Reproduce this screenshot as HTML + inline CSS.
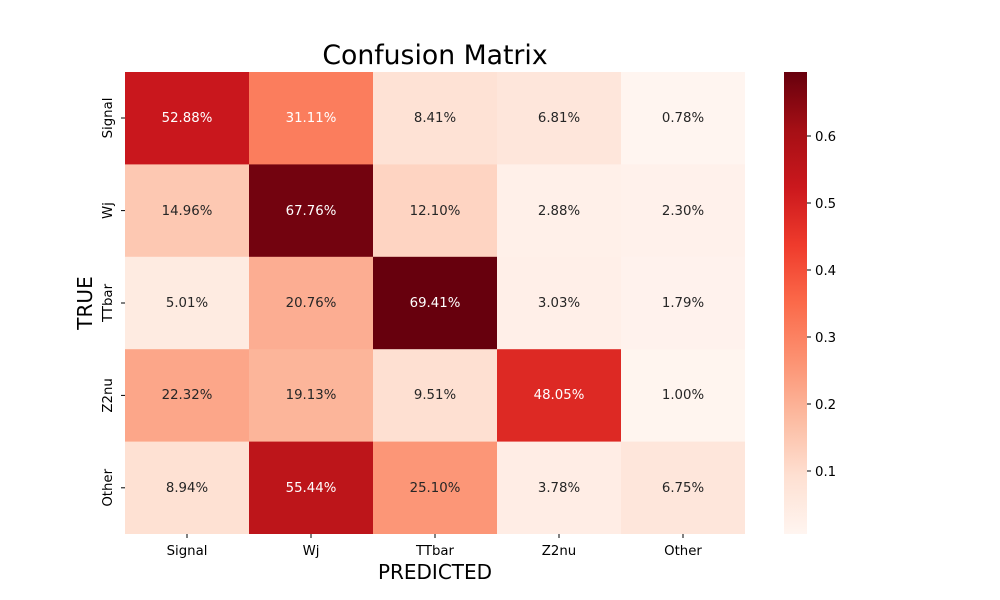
<!DOCTYPE html>
<html><head><style>body{margin:0;background:#fff}svg{display:block}text{font-family:"DejaVu Sans","Liberation Sans",sans-serif}</style></head>
<body>
<svg width="1000" height="600" xmlns="http://www.w3.org/2000/svg">
<defs><linearGradient id="g" x1="0" y1="1" x2="0" y2="0">
<stop offset="0" stop-color="#fff5f0"/><stop offset="0.125" stop-color="#fee0d2"/><stop offset="0.25" stop-color="#fcbba1"/><stop offset="0.375" stop-color="#fc9272"/><stop offset="0.5" stop-color="#fb6a4a"/><stop offset="0.625" stop-color="#ef3b2c"/><stop offset="0.75" stop-color="#cb181d"/><stop offset="0.875" stop-color="#a50f15"/><stop offset="1" stop-color="#67000d"/>
</linearGradient></defs>
<text x="435" y="64" font-size="26.7" text-anchor="middle" fill="#000">Confusion Matrix</text>
<g font-size="13.3" text-anchor="middle">
<rect x="125" y="72" width="124" height="93" fill="#c9171d"/><text x="187" y="122" fill="#fff">52.88%</text>
<rect x="249" y="72" width="124" height="93" fill="#fb7d5d"/><text x="311" y="122" fill="#fff">31.11%</text>
<rect x="373" y="72" width="124" height="93" fill="#fee2d5"/><text x="435" y="122" fill="#262626">8.41%</text>
<rect x="497" y="72" width="124" height="93" fill="#fee6db"/><text x="559" y="122" fill="#262626">6.81%</text>
<rect x="621" y="72" width="124" height="93" fill="#fff5f0"/><text x="683" y="122" fill="#262626">0.78%</text>

<rect x="125" y="164.4" width="124" height="93" fill="#fdc8b2"/><text x="187" y="215" fill="#262626">14.96%</text>
<rect x="249" y="164.4" width="124" height="93" fill="#73030f"/><text x="311" y="215" fill="#fff">67.76%</text>
<rect x="373" y="164.4" width="124" height="93" fill="#fed4c2"/><text x="435" y="215" fill="#262626">12.10%</text>
<rect x="497" y="164.4" width="124" height="93" fill="#fff0e9"/><text x="559" y="215" fill="#262626">2.88%</text>
<rect x="621" y="164.4" width="124" height="93" fill="#fff1eb"/><text x="683" y="215" fill="#262626">2.30%</text>

<rect x="125" y="256.8" width="124" height="93" fill="#feebe1"/><text x="187" y="307" fill="#262626">5.01%</text>
<rect x="249" y="256.8" width="124" height="93" fill="#fcad92"/><text x="311" y="307" fill="#262626">20.76%</text>
<rect x="373" y="256.8" width="124" height="93" fill="#67000d"/><text x="435" y="307" fill="#fff">69.41%</text>
<rect x="497" y="256.8" width="124" height="93" fill="#ffefe8"/><text x="559" y="307" fill="#262626">3.03%</text>
<rect x="621" y="256.8" width="124" height="93" fill="#fff2ed"/><text x="683" y="307" fill="#262626">1.79%</text>

<rect x="125" y="349.2" width="124" height="93" fill="#fca689"/><text x="187" y="399" fill="#262626">22.32%</text>
<rect x="249" y="349.2" width="124" height="93" fill="#fcb59a"/><text x="311" y="399" fill="#262626">19.13%</text>
<rect x="373" y="349.2" width="124" height="93" fill="#fee0d2"/><text x="435" y="399" fill="#262626">9.51%</text>
<rect x="497" y="349.2" width="124" height="93" fill="#dd2924"/><text x="559" y="399" fill="#fff">48.05%</text>
<rect x="621" y="349.2" width="124" height="93" fill="#fff5ef"/><text x="683" y="399" fill="#262626">1.00%</text>

<rect x="125" y="441.6" width="124" height="92.4" fill="#fee1d3"/><text x="187" y="492" fill="#262626">8.94%</text>
<rect x="249" y="441.6" width="124" height="92.4" fill="#bd151a"/><text x="311" y="492" fill="#fff">55.44%</text>
<rect x="373" y="441.6" width="124" height="92.4" fill="#fc9677"/><text x="435" y="492" fill="#262626">25.10%</text>
<rect x="497" y="441.6" width="124" height="92.4" fill="#ffede5"/><text x="559" y="492" fill="#262626">3.78%</text>
<rect x="621" y="441.6" width="124" height="92.4" fill="#fee6db"/><text x="683" y="492" fill="#262626">6.75%</text>
</g>
<g stroke="#000" stroke-width="1">
<line x1="187" y1="534" x2="187" y2="538"/><line x1="311" y1="534" x2="311" y2="538"/><line x1="435" y1="534" x2="435" y2="538"/><line x1="559" y1="534" x2="559" y2="538"/><line x1="683" y1="534" x2="683" y2="538"/>
<line x1="121" y1="118" x2="125" y2="118"/><line x1="121" y1="210.6" x2="125" y2="210.6"/><line x1="121" y1="303" x2="125" y2="303"/><line x1="121" y1="395.4" x2="125" y2="395.4"/><line x1="121" y1="487.8" x2="125" y2="487.8"/>
</g>
<g font-size="13.3" text-anchor="middle" fill="#000">
<text x="187" y="555">Signal</text><text x="311" y="555">Wj</text><text x="435" y="555">TTbar</text><text x="559" y="555">Z2nu</text><text x="683" y="555">Other</text>
<text transform="translate(112,118) rotate(-90)">Signal</text>
<text transform="translate(112,210.6) rotate(-90)">Wj</text>
<text transform="translate(112,303) rotate(-90)">TTbar</text>
<text transform="translate(112,395.4) rotate(-90)">Z2nu</text>
<text transform="translate(112,487.8) rotate(-90)">Other</text>
</g>
<text x="435" y="579" font-size="20" text-anchor="middle">PREDICTED</text>
<text transform="translate(92,303) rotate(-90)" font-size="20" text-anchor="middle">TRUE</text>
<rect x="784" y="72" width="23" height="462" fill="url(#g)"/>
<g stroke="#000"><line x1="807" y1="471" x2="811" y2="471"/><line x1="807" y1="404" x2="811" y2="404"/><line x1="807" y1="337" x2="811" y2="337"/><line x1="807" y1="270" x2="811" y2="270"/><line x1="807" y1="203" x2="811" y2="203"/><line x1="807" y1="136" x2="811" y2="136"/></g>
<g font-size="13.3" fill="#000">
<text x="815" y="476">0.1</text><text x="815" y="409">0.2</text><text x="815" y="342">0.3</text><text x="815" y="275">0.4</text><text x="815" y="208">0.5</text><text x="815" y="141">0.6</text>
</g>
</svg>
</body></html>
